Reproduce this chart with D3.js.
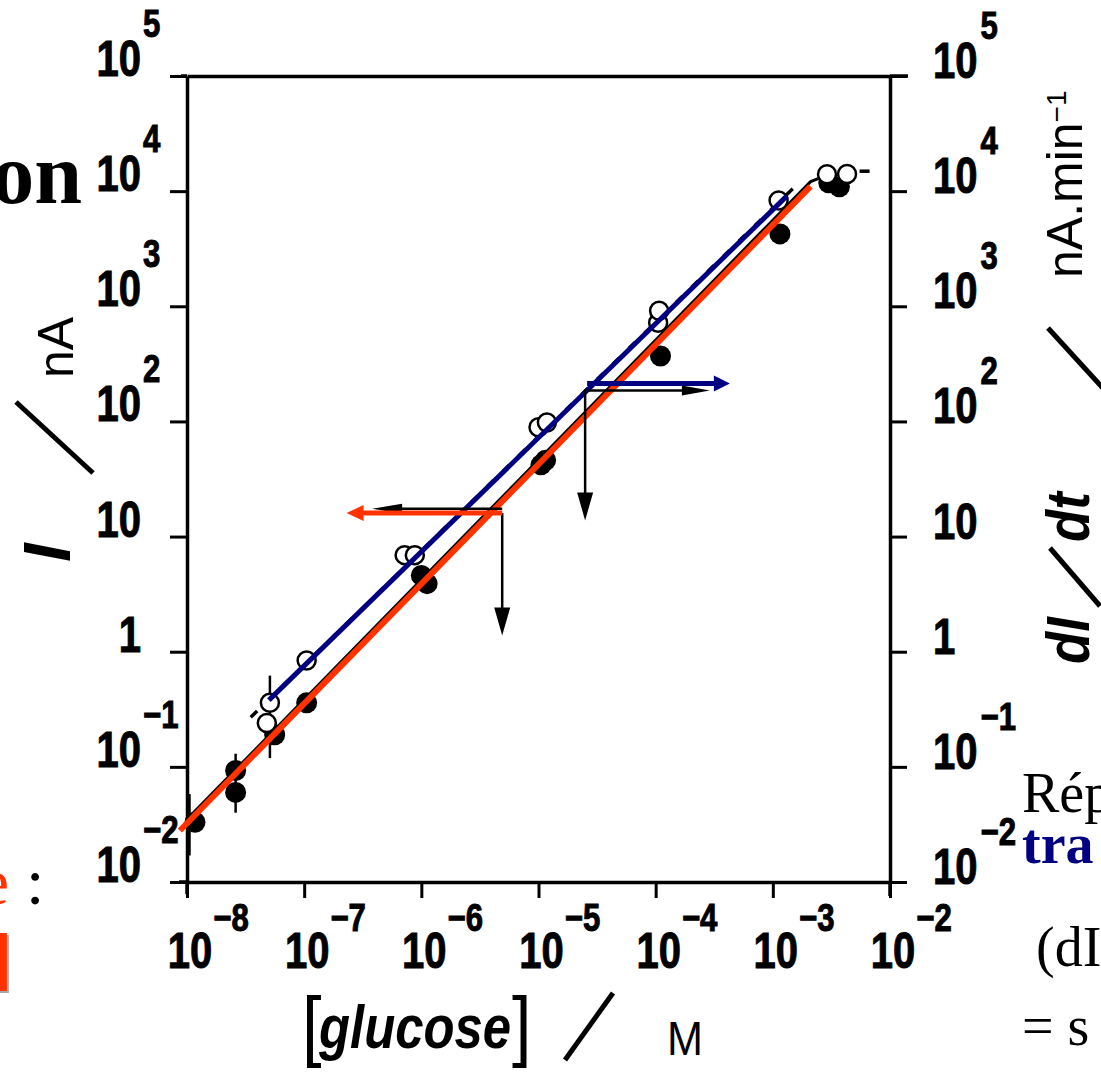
<!DOCTYPE html>
<html><head><meta charset="utf-8">
<script src="https://cdn.jsdelivr.net/npm/d3@7"></script>
<style>
body{margin:0;background:#fff}
text.sans{font-family:'Liberation Sans',Arial,sans-serif}
text.serif{font-family:'Liberation Serif','Times New Roman',serif}
</style>
</head><body><svg id="c" width="1101" height="1076"></svg>
<script>
// ---- tick labels ----
const xTicks=[1e-8,1e-7,1e-6,1e-5,1e-4,1e-3,1e-2];
const xTickBase=["10","10","10","10","10","10","10"];
const xTickExp=["−8","−7","−6","−5","−4","−3","−2"];
const yTicks=[1e-2,1e-1,1,10,1e2,1e3,1e4,1e5];
const yTickBase=["10","10","1","10","10","10","10","10"];
const yTickExp=["−2","−1","","","2","3","4","5"];

// ---- data: filled circles (I, steady current) ----
const filledX=[1.17e-8,2.6e-8,2.6e-8,5.6e-8,1.05e-7,1.0e-6,1.12e-6,1.05e-5,1.15e-5,1.1e-4,1.15e-3,3.0e-3,3.7e-3];
const filledY=[0.033,0.093,0.060,0.19,0.36,4.6,3.9,42,46,370,4250,11800,10900];
// ---- data: open circles (dI/dt) ----
const openX=[5.1e-8,4.8e-8,1.05e-7,7.2e-7,8.8e-7,1.0e-5,1.18e-5,1.05e-4,1.07e-4,1.12e-3,2.9e-3,4.3e-3];
const openY=[0.36,0.24,0.84,6.9,6.9,89,98,720,915,8300,14000,14100];
// ---- error bars ----
const errX=[1.05e-8,2.6e-8,5.1e-8];
const errLow=[0.017,0.04,0.119];
const errHigh=[0.058,0.13,0.62];
// ---- fitted lines ----
const redFitX=[8.7e-9,2.1e-3], redFitY=[0.028,11000];
const blueFitX=[5.0e-8,1.32e-3], blueFitY=[0.38,9100];
const blackFitX=[1.0e-8,2.1e-3,2.5e-3,3.0e-3], blackFitY=[0.035,12100,13000,13600];
const blackTailX=[5.5e-3,6.7e-3], blackTailY=[14900,14900];
const blackDashX=[3.5e-8,1.55e-3], blackDashY=[0.27,11000];
// ---- arrows (data coordinates) ----
const redArrowX=[4.9e-6,2.3e-7], redArrowY=[16,16];
const redBlackArrowX=[4.9e-6,3.8e-7], redBlackArrowY=[17.4,17.4];
const redDropX=[4.9e-6,4.9e-6], redDropY=[16,1.38];
const blueArrowX=[2.6e-5,4.3e-4], blueArrowY=[213,213];
const blueBlackArrowX=[2.6e-5,2.9e-4], blueBlackArrowY=[186,186];
const blueDropX=[2.5e-5,2.5e-5], blueDropY=[190,13.8];

const RED="#ff3300", NAVY="#000080";
const svg=d3.select("#c");
svg.append("rect").attr("width",1101).attr("height",1076).attr("fill","#fff");

const x=d3.scaleLog().domain([1e-8,1e-2]).range([187,890]);
const y=d3.scaleLog().domain([1e-2,1e5]).range([882,76]);
const X0=x.range()[0], X1=x.range()[1], Y0=y.range()[0], Y1=y.range()[1];

// condensed text helper (horizontal squeeze of Liberation Sans)
function ctext(parent,tx,ty,s,size,o={}){
  const sx=o.sx??0.8, rot=o.rot??0;
  const t=parent.append("text").attr("class",o.cls||"sans")
    .attr("font-size",size).attr("font-weight",o.weight||"bold")
    .attr("font-style",o.italic?"italic":"normal")
    .attr("text-anchor",o.anchor||"start").attr("fill",o.fill||"#000")
    .attr("transform",`translate(${tx},${ty}) rotate(${rot}) scale(${sx},1)`).text(s);
  if(o.stroke) t.attr("stroke",o.fill||"#000").attr("stroke-width",o.stroke);
  t.w=t.node().getComputedTextLength()*sx;
  return t;
}

// ---- axes ----
function styleAxis(g){
  g.select(".domain").attr("stroke","#000").attr("stroke-width",3.5);
  g.selectAll(".tick line").attr("stroke","#000").attr("stroke-width",3);
  g.selectAll(".tick text").remove();
}
svg.append("g").attr("transform",`translate(${X0},0)`)
  .call(d3.axisLeft(y).tickValues(yTicks).tickSize(17).tickSizeOuter(0).tickFormat(()=>"")).call(styleAxis);
svg.append("g").attr("transform",`translate(${X1},0)`)
  .call(d3.axisRight(y).tickValues(yTicks).tickSize(17).tickSizeOuter(0).tickFormat(()=>"")).call(styleAxis);
svg.append("g").attr("transform",`translate(0,${Y0})`)
  .call(d3.axisBottom(x).tickValues(xTicks).tickSize(16).tickSizeOuter(0).tickFormat(()=>"")).call(styleAxis);
svg.append("g").attr("transform",`translate(0,${Y1})`)
  .call(d3.axisTop(x).tickValues([]).tickSizeOuter(0)).call(styleAxis);
const corners=svg.append("g").attr("stroke","#000").attr("stroke-width",3.5);
corners.append("line").attr("x1",X0-8).attr("x2",X0).attr("y1",Y0).attr("y2",Y0);
corners.append("line").attr("x1",X0).attr("x2",X0).attr("y1",Y0).attr("y2",Y0+12);
corners.append("line").attr("x1",X0-6).attr("x2",X0).attr("y1",Y1).attr("y2",Y1);
corners.append("line").attr("x1",X1).attr("x2",X1+18).attr("y1",Y1).attr("y2",Y1);
corners.append("line").attr("x1",X1).attr("x2",X1).attr("y1",Y0).attr("y2",Y0+14);

// ---- tick labels ----
const lab=svg.append("g");
const BS=50, ES=38, STK=1;
yTicks.forEach((v,i)=>{
  const py=y(v);
  ctext(lab,141,py,yTickBase[i],BS,{anchor:"end",stroke:STK});
  if(yTickExp[i]) ctext(lab,143,py-39,yTickExp[i],ES,{sx:0.82,stroke:STK});
  const b=ctext(lab,933,py+2,yTickBase[i],BS,{stroke:STK});
  if(yTickExp[i]) ctext(lab,933+b.w+3,py-37,yTickExp[i],ES,{sx:0.82,stroke:STK});
});
xTicks.forEach((v,i)=>{
  const px=x(v)+3;
  const b=ctext(lab,px,968,xTickBase[i],BS,{anchor:"middle",stroke:STK});
  ctext(lab,px+b.w/2+1,931,xTickExp[i],ES,{sx:0.82,stroke:STK});
});

// ---- axis titles ----
const tt=svg.append("g");
// left: I / nA
ctext(tt,70,562,"I",67,{italic:true,rot:-90,sx:1});
tt.append("line").attr("x1",16).attr("y1",402).attr("x2",93).attr("y2",473).attr("stroke","#000").attr("stroke-width",5);
ctext(tt,73,378,"nA",50,{weight:"normal",rot:-90,sx:1});
// right: dI / dt / nA.min-1
ctext(tt,1089,664,"dI",62,{italic:true,rot:-90,sx:0.85});
tt.append("line").attr("x1",1050).attr("y1",548).attr("x2",1100).attr("y2",606).attr("stroke","#000").attr("stroke-width",5);
ctext(tt,1089,542,"dt",62,{italic:true,rot:-90,sx:0.85});
tt.append("line").attr("x1",1048).attr("y1",328).attr("x2",1112).attr("y2",398).attr("stroke","#000").attr("stroke-width",5);
const nm=ctext(tt,1082,278,"nA.min",50,{weight:"normal",rot:-90,sx:1});
ctext(tt,1066,278-nm.w,"−1",28,{weight:"normal",rot:-90,sx:1});
// bottom: [glucose] / M
ctext(tt,302,1052,"[",78,{weight:"normal",sx:0.9});
const gl=ctext(tt,319,1048,"glucose",62,{italic:true,sx:0.82});
ctext(tt,319+gl.w+1,1052,"]",78,{weight:"normal",sx:0.9});
tt.append("line").attr("x1",565).attr("y1",1060).attr("x2",613).attr("y2",993).attr("stroke","#000").attr("stroke-width",5);
ctext(tt,667,1055,"M",48,{weight:"normal",sx:0.9});

// ---- fits ----
const sl=d3.line().x(d=>x(d[0])).y(d=>y(d[1]));
const zipP=(a,b)=>a.map((v,i)=>[v,b[i]]);
const plot=svg.append("g");
plot.append("path").attr("d",sl(zipP(blackFitX,blackFitY))).attr("fill","none").attr("stroke","#000").attr("stroke-width",3).attr("stroke-linejoin","round");
plot.append("path").attr("d",sl(zipP(blackTailX,blackTailY))).attr("fill","none").attr("stroke","#000").attr("stroke-width",3.5);
plot.append("path").attr("d",sl(zipP(blackDashX,blackDashY))).attr("fill","none").attr("stroke","#000").attr("stroke-width",3.5).attr("stroke-dasharray","9,13");

// error bars
errX.forEach((v,i)=>{
  plot.append("line").attr("x1",x(v)).attr("x2",x(v)).attr("y1",y(errLow[i])).attr("y2",y(errHigh[i])).attr("stroke","#000").attr("stroke-width",2.5);
});
// filled circles
plot.selectAll("circle.f").data(zipP(filledX,filledY)).join("circle").attr("class","f")
  .attr("cx",d=>x(d[0])).attr("cy",d=>y(d[1])).attr("r",10.5).attr("fill","#000");
// open circles
plot.selectAll("circle.o").data(zipP(openX,openY)).join("circle").attr("class","o")
  .attr("cx",d=>x(d[0])).attr("cy",d=>y(d[1])).attr("r",9).attr("fill","#fff").attr("stroke","#000").attr("stroke-width",2.5);

// coloured fits
plot.append("path").attr("d",sl(zipP(blueFitX,blueFitY))).attr("fill","none").attr("stroke",NAVY).attr("stroke-width",5);
plot.append("path").attr("d",sl(zipP(redFitX,redFitY))).attr("fill","none").attr("stroke",RED).attr("stroke-width",6);

// ---- arrows ----
function arrow(ax,ay,color,w,hl,hw){
  const x1=x(ax[0]),y1=y(ay[0]),x2=x(ax[1]),y2=y(ay[1]);
  const dx=x2-x1,dy=y2-y1,L=Math.hypot(dx,dy),ux=dx/L,uy=dy/L;
  const bx=x2-ux*hl,by=y2-uy*hl;
  plot.append("line").attr("x1",x1).attr("y1",y1).attr("x2",bx+ux*2).attr("y2",by+uy*2).attr("stroke",color).attr("stroke-width",w);
  plot.append("polygon").attr("points",[[x2,y2],[bx-uy*hw,by+ux*hw],[bx+uy*hw,by-ux*hw]].map(p=>p.join(",")).join(" ")).attr("fill",color);
}
arrow(redBlackArrowX,redBlackArrowY,"#000",2.5,30,5);
arrow(redDropX,redDropY,"#000",2.5,28,8);
arrow(blueBlackArrowX,blueBlackArrowY,"#000",2.5,28,5);
arrow(blueDropX,blueDropY,"#000",2.5,28,8);
arrow(redArrowX,redArrowY,RED,5,17,8);
arrow(blueArrowX,blueArrowY,NAVY,5,16,8);

// ---- surrounding slide text (cut off at the edges, as in the source slide) ----
const st=svg.append("g");
ctext(st,82,203,"on",86,{cls:"serif",anchor:"end",sx:1});
ctext(st,9,904,"e",66,{cls:"serif",anchor:"end",weight:"normal",fill:RED,sx:1});
ctext(st,26,904,":",66,{cls:"serif",weight:"normal",sx:1});
ctext(st,12,982,"]",70,{cls:"serif",anchor:"end",fill:RED,sx:1}).attr("style","text-shadow:2px 2px 0 #aaa");
ctext(st,1022,812,"Rép",56,{cls:"serif",weight:"normal",sx:1});
ctext(st,1022,863,"tra",56,{cls:"serif",fill:NAVY,sx:1});
ctext(st,1036,966,"(dI",56,{cls:"serif",weight:"normal",sx:1});
ctext(st,1022,1045,"= s",56,{cls:"serif",weight:"normal",sx:1});
</script></body></html>
